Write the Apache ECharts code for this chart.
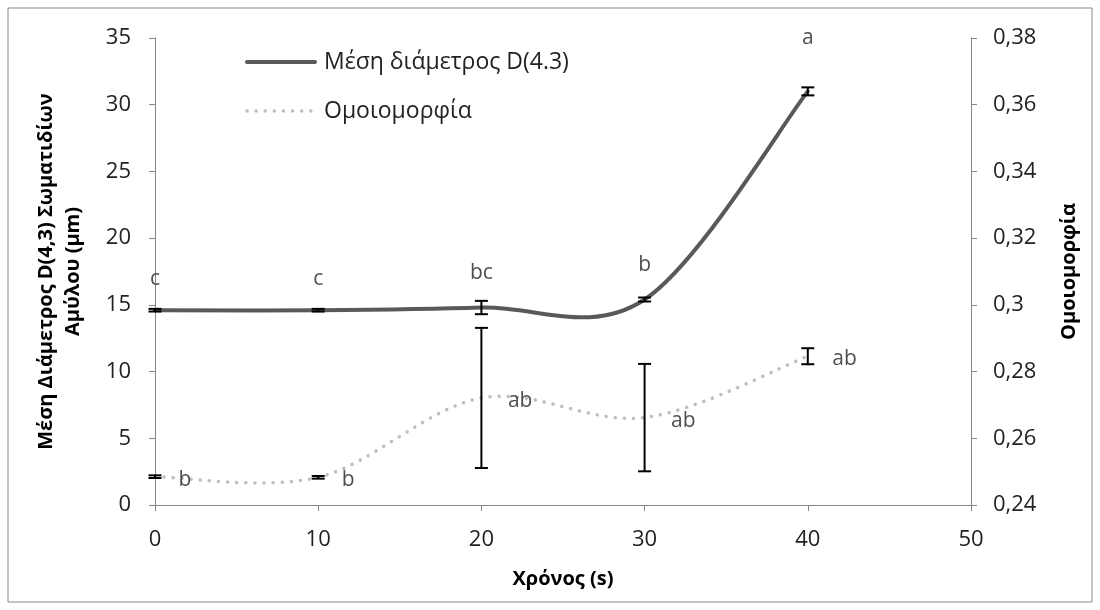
<!DOCTYPE html>
<html>
<head>
<meta charset="utf-8">
<script src="https://cdn.jsdelivr.net/npm/echarts@6/dist/echarts.min.js"></script>
<style>html,body{margin:0;padding:0;background:#fff;}#c{width:1100px;height:610px;}</style>
</head>
<body>
<div id="c"></div>
<script>
// ---- data ----
const times = [0, 10, 20, 30, 40];
const diameter = [14.6, 14.6, 14.8, 15.4, 31.0];
const diameterErr = [0.1, 0.1, 0.5, 0.15, 0.3];
const uniformity = [0.2485, 0.2483, 0.2721, 0.2662, 0.2846];
const uniformityErr = [0.0004, 0.0004, 0.021, 0.0161, 0.0024];
const diameterLetters = ['c', 'c', 'bc', 'b', 'a'];
const uniformityLetters = ['b', 'b', 'ab', 'ab', 'ab'];
const nameDiameter = 'Μέση διάμετρος D(4.3)';
const nameUniformity = 'Ομοιομορφία';
// label distances (layout only)
const diameterLabelGap = [20, 20, 24, 24, 42];
const uniformityLabelGap = [23, 23, 26, 26, 24];

const FONT = '"Open Sans", "Noto Sans", sans-serif';
const DARK = '#595959', LIGHT = '#BFBFBF';
const chart = echarts.init(document.getElementById('c'), null, {renderer: 'canvas'});

function errItem(params, api) {
  const x = api.value(0), lo = api.value(1), hi = api.value(2);
  const p1 = api.coord([x, hi]);
  const p2 = api.coord([x, lo]);
  const w = 6.5;
  const st = {stroke: '#000', lineWidth: 2};
  return {type: 'group', children: [
    {type: 'line', shape: {x1: p1[0], y1: p1[1], x2: p2[0], y2: p2[1]}, style: st},
    {type: 'line', shape: {x1: p1[0] - w, y1: p1[1], x2: p1[0] + w, y2: p1[1]}, style: st},
    {type: 'line', shape: {x1: p2[0] - w, y1: p2[1], x2: p2[0] + w, y2: p2[1]}, style: st}
  ]};
}

// Excel-like smoothed line (Catmull-Rom -> cubic Bezier) through scale coordinates
function curveRenderer(xs, ys, style) {
  return function (params, api) {
    if (params.dataIndex !== 0) return null;
    const pts = xs.map((x, i) => api.coord([x, ys[i]]));
    let d = 'M' + pts[0][0] + ',' + pts[0][1];
    for (let i = 0; i < pts.length - 1; i++) {
      const p0 = pts[i - 1] || pts[i], p1 = pts[i], p2 = pts[i + 1], p3 = pts[i + 2] || pts[i + 1];
      const c1 = [p1[0] + (p2[0] - p0[0]) / 6, p1[1] + (p2[1] - p0[1]) / 6];
      const c2 = [p2[0] - (p3[0] - p1[0]) / 6, p2[1] - (p3[1] - p1[1]) / 6];
      d += ' C' + c1[0] + ',' + c1[1] + ' ' + c2[0] + ',' + c2[1] + ' ' + p2[0] + ',' + p2[1];
    }
    return {type: 'path', shape: {pathData: d}, style: Object.assign({fill: 'none'}, style)};
  };
}

const axisLine = {show: true, lineStyle: {color: '#868686', width: 1}};
const axisTick = {show: true, length: 6, inside: false, lineStyle: {color: '#868686'}};
const axisLabel = {color: '#222', fontSize: 22, fontFamily: FONT};
const nameStyle = {color: '#000', fontSize: 20, fontWeight: 'bold', fontFamily: FONT};
const darkStyle = {stroke: DARK, lineWidth: 4, lineCap: 'round'};
const lightStyle = {stroke: LIGHT, lineWidth: 3.5, lineDash: [0.1, 9], lineCap: 'round'};

chart.setOption({
  animation: false,
  backgroundColor: '#fff',
  graphic: [
    {type: 'rect', shape: {x: 8, y: 8, width: 1084, height: 594},
      style: {fill: 'none', stroke: '#888', lineWidth: 1}, silent: true},
    // legend
    {type: 'line', shape: {x1: 247, y1: 62, x2: 315, y2: 62}, style: darkStyle},
    {type: 'text', x: 324, y: 62, style: {text: nameDiameter, fill: '#222', font: '23px ' + FONT, verticalAlign: 'middle'}},
    {type: 'line', shape: {x1: 247, y1: 111, x2: 315, y2: 111}, style: lightStyle},
    {type: 'text', x: 324, y: 111, style: {text: nameUniformity, fill: '#222', font: '23px ' + FONT, verticalAlign: 'middle'}}
  ],
  grid: {left: 155, right: 129, top: 38, bottom: 105},
  xAxis: {
    type: 'value', min: 0, max: 50, interval: 10,
    name: 'Χρόνος (s)', nameLocation: 'middle', nameGap: 64, nameMoveOverlap: false, nameTextStyle: nameStyle,
    axisLine, axisTick, axisLabel: Object.assign({margin: 24}, axisLabel), splitLine: {show: false}
  },
  yAxis: [{
    type: 'value', min: 0, max: 35, interval: 5, position: 'left',
    name: 'Μέση Διάμετρος D(4,3) Σωματιδίων\nΑμύλου (μm)', nameLocation: 'middle', nameRotate: 90,
    nameGap: 68, nameMoveOverlap: false, nameTextStyle: Object.assign({lineHeight: 27}, nameStyle),
    axisLine, axisTick, axisLabel: Object.assign({margin: 24}, axisLabel), splitLine: {show: false}
  }, {
    type: 'value', min: 0.24, max: 0.38, interval: 0.02, position: 'right',
    name: 'Ομοιομορφία', nameLocation: 'middle', nameRotate: 90, nameGap: 88, nameMoveOverlap: false,
    nameTextStyle: nameStyle,
    axisLine, axisTick,
    axisLabel: Object.assign({margin: 22, formatter: v => String(+v.toFixed(2)).replace('.', ',')}, axisLabel),
    splitLine: {show: false}
  }],
  series: [
    {
      name: nameDiameter, type: 'custom', yAxisIndex: 0, z: 3,
      renderItem: curveRenderer(times, diameter, darkStyle),
      data: times.map((t, i) => [t, diameter[i]])
    },
    {
      name: nameUniformity, type: 'custom', yAxisIndex: 1, z: 2,
      renderItem: curveRenderer(times, uniformity, lightStyle),
      data: times.map((t, i) => [t, uniformity[i]])
    },
    {
      type: 'custom', yAxisIndex: 0, renderItem: errItem, z: 5,
      data: times.map((t, i) => [t, diameter[i] - diameterErr[i], diameter[i] + diameterErr[i]])
    },
    {
      type: 'custom', yAxisIndex: 1, renderItem: errItem, z: 5,
      data: times.map((t, i) => [t, uniformity[i] - uniformityErr[i], uniformity[i] + uniformityErr[i]])
    },
    {
      type: 'scatter', yAxisIndex: 0, symbolSize: 1, itemStyle: {color: 'rgba(0,0,0,0)'}, z: 6,
      data: times.map((t, i) => ({value: [t, diameter[i]],
        label: {show: true, position: 'top', distance: diameterLabelGap[i], formatter: diameterLetters[i],
          color: '#222', fontSize: 21, fontFamily: FONT}}))
    },
    {
      type: 'scatter', yAxisIndex: 1, symbolSize: 1, itemStyle: {color: 'rgba(0,0,0,0)'}, z: 6,
      data: times.map((t, i) => ({value: [t, uniformity[i]],
        label: {show: true, position: 'right', distance: uniformityLabelGap[i], offset: [0, 3], formatter: uniformityLetters[i],
          color: '#222', fontSize: 21, fontFamily: FONT}}))
    }
  ]
});
</script>
</body>
</html>
